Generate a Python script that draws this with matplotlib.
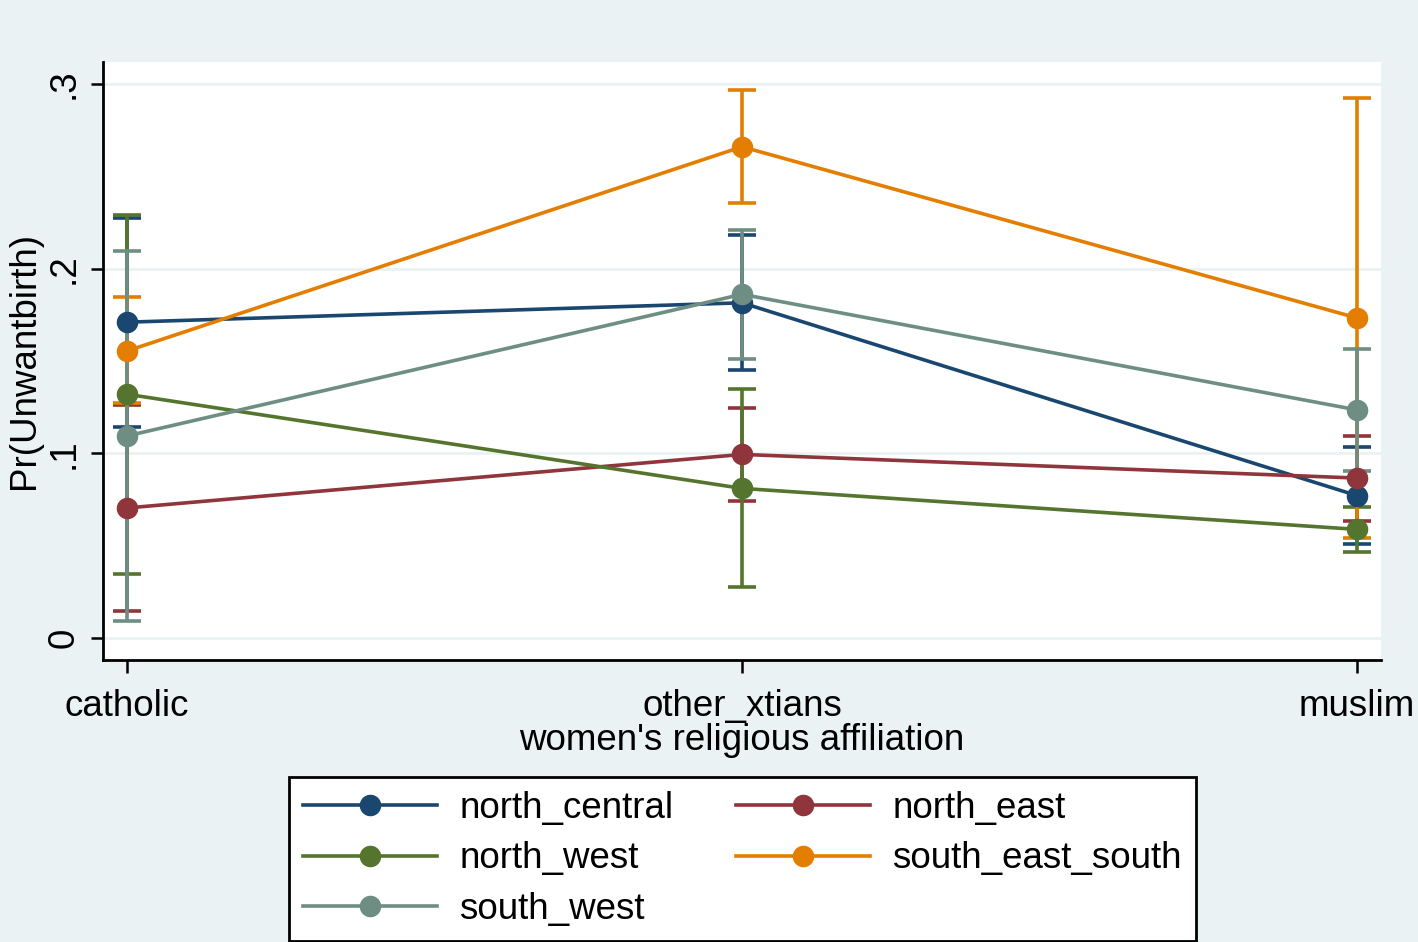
import matplotlib
matplotlib.use("Agg")
import matplotlib.pyplot as plt
import numpy as np

# margins of Pr(Unwantbirth) by religion x region
religions = ['catholic', 'other_xtians', 'muslim']
regions = ['north_central', 'north_east', 'north_west', 'south_east_south', 'south_west']

north_central = [0.171, 0.1815, 0.0771]
north_central_lo = [0.114, 0.1453, 0.051]
north_central_hi = [0.2275, 0.2184, 0.1033]

north_east = [0.0704, 0.0994, 0.0866]
north_east_lo = [0.0146, 0.0744, 0.0636]
north_east_hi = [0.126, 0.1244, 0.1092]

north_west = [0.132, 0.081, 0.0588]
north_west_lo = [0.0347, 0.0276, 0.0467]
north_west_hi = [0.229, 0.1348, 0.0709]

south_east_south = [0.1554, 0.266, 0.1733]
south_east_south_lo = [0.127, 0.2353, 0.054]
south_east_south_hi = [0.1847, 0.2967, 0.2924]

south_west = [0.1094, 0.1861, 0.1235]
south_west_lo = [0.0094, 0.1509, 0.0905]
south_west_hi = [0.2096, 0.2211, 0.1565]

yticks = [0, 0.1, 0.2, 0.3]
ytick_labels = ['0', '.1', '.2', '.3']

plt.rcParams['font.family'] = ['Liberation Sans', 'DejaVu Sans']

colors = {
    'north_central': '#1a476f',
    'north_east': '#90353b',
    'north_west': '#55752f',
    'south_east_south': '#e37e00',
    'south_west': '#6e8e84',
}
series = {
    'north_central': (north_central, north_central_lo, north_central_hi),
    'north_east': (north_east, north_east_lo, north_east_hi),
    'north_west': (north_west, north_west_lo, north_west_hi),
    'south_east_south': (south_east_south, south_east_south_lo, south_east_south_hi),
    'south_west': (south_west, south_west_lo, south_west_hi),
}

bg = '#eaf2f3'
fs = 26.5
fig = plt.figure(figsize=(14.18, 9.42), dpi=100, facecolor=bg)
ax = fig.add_axes([0.0726, 0.2994, 0.9013, 0.6348])
ax.set_facecolor('white')

x = np.arange(len(religions))

for yv in yticks:
    ax.axhline(yv, color=bg, lw=2, zorder=0)

# CIs first, then lines on top
for r in regions:
    m, lo, hi = series[r]
    m = np.array(m)
    err = [m - np.array(lo), np.array(hi) - m]
    ax.errorbar(x, m, yerr=err, fmt='none', ecolor=colors[r], elinewidth=2.6,
                capsize=10, capthick=2.6, zorder=2)

handles = {}
for r in regions:
    m = series[r][0]
    h, = ax.plot(x, m, color=colors[r], lw=2.6, marker='o', markersize=14.5, zorder=3)
    handles[r] = h

ax.set_xlim(-0.039, 2.039)
ax.set_ylim(-0.0119, 0.3119)
ax.set_xticks(x)
ax.set_xticklabels(religions, fontsize=fs)
ax.set_yticks(yticks)
ax.set_yticklabels(ytick_labels, fontsize=fs, rotation=90, va='center')
ax.tick_params(axis='both', direction='out', length=9, width=1.8, color='black')
ax.tick_params(axis='x', pad=12)
ax.tick_params(axis='y', pad=6)
for s in ['top', 'right']:
    ax.spines[s].set_visible(False)
for s in ['left', 'bottom']:
    ax.spines[s].set_linewidth(2)

ax.set_xlabel("women's religious affiliation", fontsize=fs, labelpad=-1)
ax.set_ylabel('Pr(Unwantbirth)', fontsize=fs, labelpad=4)

order = ['north_central', 'north_west', 'south_west', 'north_east', 'south_east_south']
leg = fig.legend([handles[r] for r in order], order, ncol=2, fontsize=fs,
                 loc='upper center', bbox_to_anchor=(0.5236, 0.1752),
                 frameon=True, fancybox=False, edgecolor='black', framealpha=1,
                 handlelength=3.65, labelspacing=0.42, borderaxespad=0, borderpad=0.38,
                 columnspacing=1.7, handletextpad=0.6)
leg.get_frame().set_linewidth(2)

fig.savefig('out.png', dpi=100, facecolor=bg)
